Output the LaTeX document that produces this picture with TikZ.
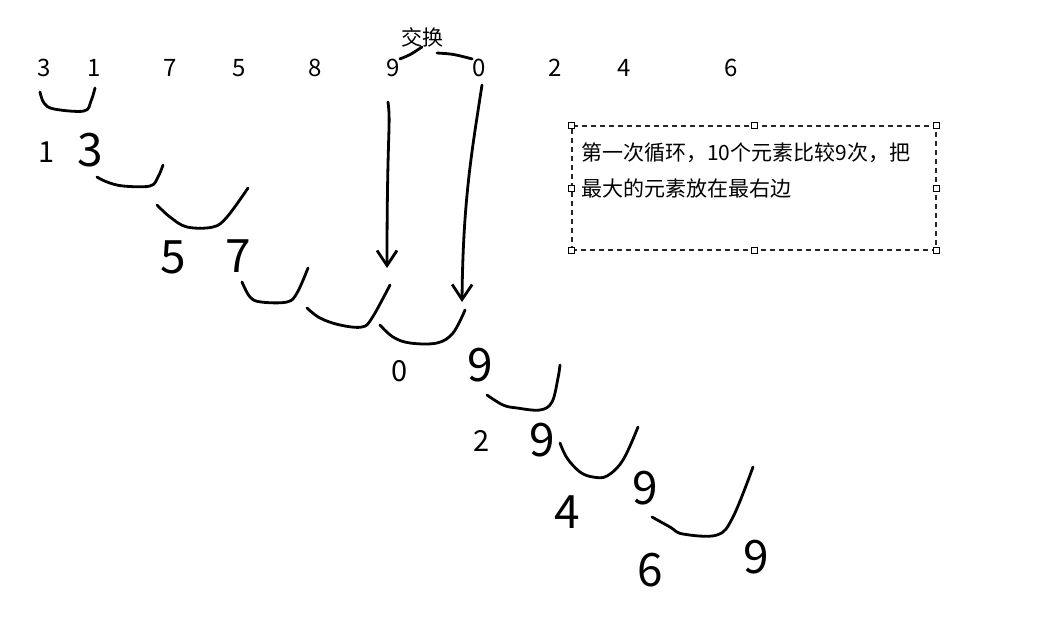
\documentclass[tikz,border=0pt]{standalone}
\usepackage{fontspec}
\setmainfont{Noto Sans CJK SC}
\usetikzlibrary{arrows.meta}

\begin{document}
\begin{tikzpicture}[x=1pt,y=-1pt,>={Straight Barb[length=15pt,width=20pt,line width=2.8pt]},
  num/.style={inner sep=0pt,font=\fontsize{24}{24}\selectfont},
  hand/.style={inner sep=0pt,font=\fontsize{46}{46}\selectfont},
  small/.style={inner sep=0pt,font=\fontsize{29}{29}\selectfont},
  stroke/.style={line width=2.8pt,line cap=round,line join=round},
  handle/.style={draw,fill=white,line width=0.8pt,minimum size=6pt,inner sep=0pt},
  notetext/.style={inner sep=0pt,anchor=west,font=\fontsize{21}{21}\selectfont}]
  \useasboundingbox (0,0) rectangle (1057,616);

  % the row before the loop
  \node[num] (t3) at (44,68) {3};
  \node[num] (t1) at (94,68) {1};
  \node[num] (t7) at (170,68) {7};
  \node[num] (t5) at (239,68) {5};
  \node[num] (t8) at (315,68) {8};
  \node[num] (t9) at (393,68) {9};
  \node[num] (t0) at (479,68) {0};
  \node[num] (t2) at (555,68) {2};
  \node[num] (t4) at (624,68) {4};
  \node[num] (t6) at (731,68) {6};
  \node[inner sep=0pt,font=\fontsize{21}{21}\selectfont] (swap) at (422,37) {交换};

  % note with its handles
  \node[draw,black!85,dash pattern=on 5pt off 4pt,line width=1.1pt,minimum width=364pt,minimum height=124pt,inner sep=0pt] (note) at (754,188) {};
  \node[handle] at (note.north west) {};
  \node[handle] at (note.north) {};
  \node[handle] at (note.north east) {};
  \node[handle] at (note.west) {};
  \node[handle] at (note.east) {};
  \node[handle] at (note.south west) {};
  \node[handle] at (note.south) {};
  \node[handle] at (note.south east) {};
  \node[notetext] (line1) at (581,153) {第一次循环，10个元素比较9次，把};
  \node[notetext] (line2) at (581,188) {最大的元素放在最右边};

  % handwritten steps
  \node[small] (r1a) at (47,152) {1};
  \node[hand] (r1b) at (90,150) {3};
  \node[hand] (r2a) at (173,257) {5};
  \node[hand] (r2b) at (238,256) {7};
  \node[small] (r3a) at (400,371) {0};
  \node[hand] (r3b) at (480,365) {9};
  \node[small] (r4a) at (482,441) {2};
  \node[hand] (r4b) at (542,440) {9};
  \node[hand] (r5a) at (567,512) {4};
  \node[hand] (r5b) at (645,488) {9};
  \node[hand] (r6a) at (650,570) {6};
  \node[hand] (r6b) at (756,557) {9};

  \draw[stroke] plot[smooth,tension=0.6] coordinates {(40,92) (44,103) (54,109) (84,111) (91,101) (95,88)};
  \draw[stroke] plot[smooth,tension=0.6] coordinates {(97,177) (107,182) (123,186) (150,186) (158,177) (163,165)};
  \draw[stroke] plot[smooth,tension=0.6] coordinates {(157,205) (170,217) (187,227) (213,227) (227,217) (248,188)};
  \draw[stroke] plot[smooth,tension=0.6] coordinates {(242,282) (250,297) (261,302) (287,302) (297,293) (308,268)};
  \draw[stroke] plot[smooth,tension=0.6] coordinates {(307,308) (320,318) (340,325) (362,327) (372,318) (390,285)};
  \draw[stroke] plot[smooth,tension=0.6] coordinates {(380,325) (393,337) (410,343) (437,343) (453,333) (465,310)};
  \draw[stroke] plot[smooth,tension=0.6] coordinates {(487,395) (503,405) (517,408) (540,410) (552,402) (558,378) (560,365)};
  \draw[stroke] plot[smooth,tension=0.6] coordinates {(560,443) (567,458) (580,472) (593,477) (607,476) (623,460) (638,427)};
  \draw[stroke] plot[smooth,tension=0.6] coordinates {(652,517) (670,527) (683,534) (717,535) (733,517) (753,467)};

  % the swap of 9 and 0
  \draw[stroke] (t9.north east) .. controls (410,55) .. (swap.south);
  \draw[stroke] (437,53) .. controls (453,54) .. (t0.north west);
  \coordinate (from9) at (388,102);
  \coordinate (to9) at (387,268);
  \coordinate (from0) at (482,85);
  \coordinate (to0) at (462,302);
  \draw[stroke,->] (from9) .. controls (391,125) and (387,130) .. (to9);
  \draw[stroke,->] (from0) .. controls (472,150) and (463,200) .. (to0);
\end{tikzpicture}
\end{document}
